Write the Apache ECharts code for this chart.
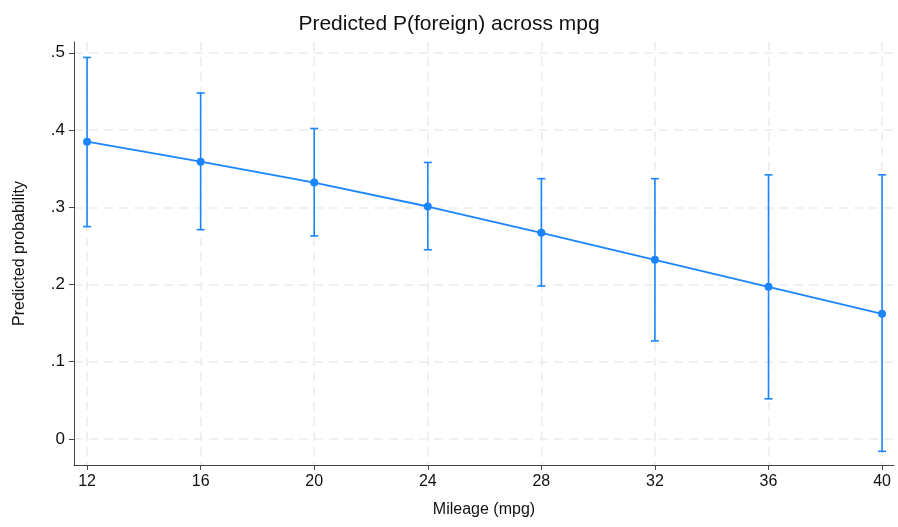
<!DOCTYPE html>
<html>
<head>
<meta charset="utf-8">
<script src="https://cdn.jsdelivr.net/npm/echarts@6/dist/echarts.min.js"></script>
<style>
  html, body { margin: 0; padding: 0; background: #fff; }
  #chart { width: 898px; height: 527px; }
</style>
</head>
<body>
<div id="chart"></div>
<script>
// mpg values and predicted probabilities with CI
const mpgValues = [12, 16, 20, 24, 28, 32, 36, 40];
const predicted = [0.385, 0.359, 0.332, 0.301, 0.267, 0.232, 0.197, 0.162];
const ciLower = [0.275, 0.271, 0.263, 0.245, 0.198, 0.127, 0.052, -0.016];
const ciUpper = [0.494, 0.448, 0.402, 0.358, 0.337, 0.337, 0.342, 0.342];
const xTicks = [12, 16, 20, 24, 28, 32, 36, 40];
const yTicks = [0, 0.1, 0.2, 0.3, 0.4, 0.5];

const blue = "#1a85ff";
const font = "Liberation Sans, Arial, Helvetica, sans-serif";

const chart = echarts.init(document.getElementById("chart"));

const lineData = mpgValues.map((m, i) => [m, predicted[i]]);
const ciData = mpgValues.map((m, i) => [m, ciLower[i], ciUpper[i]]);

const yFmt = (v) => (v === 0 ? "0" : String(Math.round(v * 10) / 10).replace(/^0/, ""));

const option = {
  animation: false,
  textStyle: { fontFamily: font },
  title: {
    text: "Predicted P(foreign) across mpg",
    left: "center",
    top: 9,
    textStyle: { fontFamily: font, fontSize: 21, fontWeight: "normal", color: "#111" },
  },
  grid: { left: 74, right: 4, top: 42, bottom: 62 },
  xAxis: {
    type: "value",
    min: 11.54,
    max: 40.42,
    name: "Mileage (mpg)",
    nameLocation: "middle",
    nameGap: 37,
    nameTextStyle: { fontFamily: font, fontSize: 16, color: "#111" },
    axisLine: { show: true, onZero: false, lineStyle: { color: "#444", width: 1 } },
    axisTick: { show: true, customValues: xTicks, length: 5, lineStyle: { color: "#444" } },
    axisLabel: { customValues: xTicks, fontSize: 16, color: "#111", margin: 9 },
    splitLine: { show: true, lineStyle: { color: "#ececec", width: 1.5, type: [9, 6] } },
  },
  yAxis: {
    type: "value",
    min: -0.0337,
    max: 0.514,
    name: "Predicted probability",
    nameLocation: "middle",
    nameGap: 46,
    nameTextStyle: { fontFamily: font, fontSize: 16, color: "#111" },
    axisLine: { show: true, onZero: false, lineStyle: { color: "#444", width: 1 } },
    axisTick: { show: true, customValues: yTicks, length: 5, lineStyle: { color: "#444" } },
    axisLabel: { customValues: yTicks, fontSize: 17, color: "#111", margin: 9, formatter: yFmt },
    splitLine: { show: true, lineStyle: { color: "#ececec", width: 1.5, type: [9, 6] } },
  },
  series: [
    {
      type: "custom",
      data: ciData,
      z: 2,
      renderItem: (params, api) => {
        const lo = api.coord([api.value(0), api.value(1)]);
        const hi = api.coord([api.value(0), api.value(2)]);
        const w = 4;
        const style = { stroke: blue, lineWidth: 1.6 };
        return {
          type: "group",
          children: [
            { type: "line", shape: { x1: lo[0], y1: lo[1], x2: hi[0], y2: hi[1] }, style },
            { type: "line", shape: { x1: lo[0] - w, y1: lo[1], x2: lo[0] + w, y2: lo[1] }, style },
            { type: "line", shape: { x1: hi[0] - w, y1: hi[1], x2: hi[0] + w, y2: hi[1] }, style },
          ],
        };
      },
    },
    {
      type: "line",
      data: lineData,
      z: 3,
      symbol: "circle",
      symbolSize: 8,
      lineStyle: { color: blue, width: 1.8 },
      itemStyle: { color: blue },
    },
  ],
};

chart.setOption(option);
</script>
</body>
</html>
